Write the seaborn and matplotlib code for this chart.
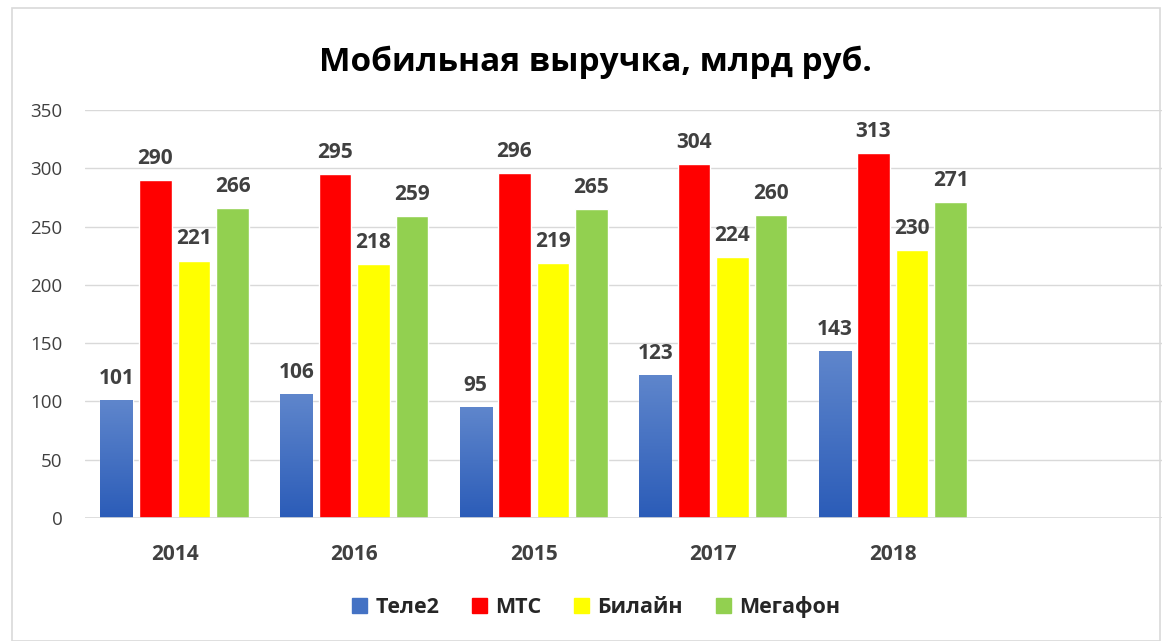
import numpy as np
import pandas as pd
import seaborn as sns
import matplotlib.pyplot as plt
from matplotlib.patches import Rectangle, Patch
from matplotlib.colors import LinearSegmentedColormap

years = ['2014', '2016', '2015', '2017', '2018']
operators = ['Теле2', 'МТС', 'Билайн', 'Мегафон']
tele2 = [101, 106, 95, 123, 143]
mts = [290, 295, 296, 304, 313]
beeline = [221, 218, 219, 224, 230]
megafon = [266, 259, 265, 260, 271]
colors = ['#4472c4', '#ff0000', '#ffff00', '#92d050']

df = pd.DataFrame({
    'year': years * 4,
    'operator': np.repeat(operators, len(years)),
    'value': tele2 + mts + beeline + megafon,
})

sns.set_theme(style='white')
plt.rcParams['font.family'] = ['Open Sans', 'DejaVu Sans']

fig = plt.figure(figsize=(11.62, 6.41), dpi=100)
ax = fig.add_axes([0.073, 0.192, 0.927, 0.636])

sns.barplot(data=df, x='year', y='value', hue='operator', order=years,
            hue_order=operators, palette=colors, width=0.86, gap=0.16,
            saturation=1, legend=False, ax=ax)

# gradient fill for the Tele2 bars
cmap = LinearSegmentedColormap.from_list('blue', ['#2b5cb8', '#5f86cc'])
grad = np.linspace(0, 1, 256).reshape(-1, 1)
for p in ax.containers[0]:
    x0, y0 = p.get_x(), p.get_y()
    w, h = p.get_width(), p.get_height()
    im = ax.imshow(grad, cmap=cmap, origin='lower', aspect='auto',
                   extent=[x0, x0 + w, y0, y0 + h], zorder=p.get_zorder() + 0.1)
    im.set_clip_path(p)

for c in ax.containers:
    ax.bar_label(c, padding=8, fontsize=15, fontweight='bold', color='#404040')

ax.set_xlim(-0.5, 5.5)
ax.set_ylim(0, 350)
ax.set_yticks(range(0, 351, 50))
ax.yaxis.grid(True, color='#d9d9d9', linewidth=1)
ax.set_axisbelow(True)
for s in ax.spines.values():
    s.set_visible(False)
ax.axhline(0, color='#d9d9d9', linewidth=1.2)
ax.set_xlabel('')
ax.set_ylabel('')
ax.tick_params(axis='y', labelsize=13.5, colors='#404040', pad=16, length=0)
ax.tick_params(axis='x', labelsize=15, colors='#404040', pad=19, length=0)
for t in ax.get_xticklabels():
    t.set_fontweight('bold')

fig.text(0.512, 0.903, 'Мобильная выручка, млрд руб.', ha='center', va='center',
         fontsize=24, fontweight='bold', color='black')

handles = [Patch(color=c, label=o) for c, o in zip(colors, operators)]
fig.legend(handles=handles, loc='center', bbox_to_anchor=(0.513, 0.053), ncol=4,
           frameon=False, prop={'weight': 'bold', 'size': 15.5},
           handlelength=0.7, handleheight=0.7, handletextpad=0.4, columnspacing=1.5)

fig.patches.append(Rectangle((0.01, 0.0), 0.988, 0.987, transform=fig.transFigure,
                             fill=False, edgecolor='#d9d9d9', linewidth=1.2))

fig.savefig('out.png', dpi=100)
